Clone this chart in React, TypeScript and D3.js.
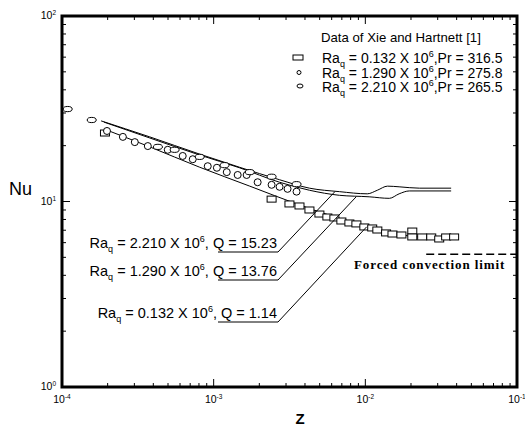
import React from 'react';
import * as d3 from 'd3';

// model curves, [Z, Nu]
const curveHigh: [number, number][] = [
  [1.81e-4, 27.2], [3.79e-4, 22.3], [8.09e-4, 18.0], [1.48e-3, 15.3], [2.72e-3, 13.1],
  [4.28e-3, 11.8], [6.75e-3, 11.3], [0.0103, 11.0], [0.012, 11.5], [0.014, 12.1],
  [0.0167, 12.0], [0.0227, 11.8], [0.0368, 11.8],
];
const curveMid: [number, number][] = [
  [1.89e-4, 26.8], [3.79e-4, 22.0], [8.09e-4, 17.8], [1.48e-3, 15.2], [2.72e-3, 12.7],
  [4.28e-3, 11.5], [6.75e-3, 10.8], [0.0106, 10.6], [0.0144, 10.4], [0.0167, 11.0],
  [0.0195, 11.4], [0.0368, 11.4],
];
const curveLow: [number, number][] = [
  [1.89e-4, 24.6], [3.79e-4, 19.7], [8.09e-4, 15.3], [1.73e-3, 12.1], [3.68e-3, 9.58],
  [4.98e-3, 8.78], [8.21e-3, 7.75], [0.0137, 6.85], [0.0227, 6.44], [0.0368, 6.36],
];

// experimental data (Xie & Hartnett)
const dataRa0132: [number, number][] = [
  [1.92e-4, 23.4], [2.41e-3, 10.3], [3.16e-3, 9.7], [3.68e-3, 9.46], [4.28e-3, 9.0],
  [4.98e-3, 8.56], [5.62e-3, 8.25], [6.25e-3, 8.15], [6.95e-3, 7.85], [7.85e-3, 7.66],
  [8.73e-3, 7.57], [9.85e-3, 7.29], [0.0111, 7.2], [0.012, 7.02], [0.0137, 6.77],
  [0.0151, 6.68], [0.0173, 6.6], [0.0204, 6.93], [0.0204, 6.44], [0.0237, 6.44],
  [0.0272, 6.44], [0.0307, 6.28], [0.0341, 6.44], [0.0385, 6.44],
];
const dataRa1290: [number, number][] = [
  [1.98e-4, 24.0], [2.52e-4, 22.3], [3.02e-4, 20.9], [3.68e-4, 19.9], [4.98e-4, 19.0],
  [6.25e-4, 17.6], [7.28e-4, 16.9], [9.14e-4, 15.5], [1.05e-3, 15.2], [1.22e-3, 14.4],
  [1.44e-3, 13.9], [1.65e-3, 13.9], [1.95e-3, 12.7], [2.41e-3, 12.3], [2.72e-3, 12.0],
  [3.07e-3, 11.7], [3.52e-3, 11.3],
];
const dataRa2210: [number, number][] = [
  [1.09e-4, 31.5], [1.57e-4, 27.5], [4.29e-4, 19.7], [5.53e-4, 19.0], [8.09e-4, 17.4],
  [1.18e-3, 15.7], [1.73e-3, 14.4], [2.41e-3, 13.6], [3.52e-3, 12.4],
];

const forcedLimit = 5.2;
const forcedZ = [0.0252, 0.1];

const caseRa = ['2.210', '1.290', '0.132'];
const caseQ = ['15.23', '13.76', '1.14'];
const leaderZ = [6.3e-3, 8.7e-3, 0.0102];
const leaderNu = [11.3, 10.6, 7.3];

const legendRa = ['0.132', '1.290', '2.210'];
const legendPr = ['316.5', '275.8', '265.5'];

const xMajor = [1e-4, 1e-3, 1e-2, 1e-1];
const xMajorExp = ['-4', '-3', '-2', '-1'];
const yMajor = [1, 10, 100];
const yMajorExp = ['0', '1', '2'];

const W = 525;
const H = 426;
const left = 62, right = 517, top = 16, bottom = 387;

const x = d3.scaleLog().domain([1e-4, 1e-1]).range([left, right]);
const y = d3.scaleLog().domain([1, 100]).range([bottom, top]);

const minorTicks = (lo: number, hi: number) => {
  const out: number[] = [];
  for (let d = lo; d < hi; d *= 10) for (let k = 2; k <= 9; k++) out.push(d * k);
  return out;
};

const line = d3.line<[number, number]>()
  .x(d => x(d[0]))
  .y(d => y(d[1]))
  .curve(d3.curveMonotoneX);

const sans = 'Liberation Sans, Arial, sans-serif';
const serif = 'Liberation Serif, Times New Roman, serif';

const Sub = ({ t }: { t: string }) => (
  <>
    <tspan dy={4} fontSize={9}>{t}</tspan>
    <tspan dy={-4}> </tspan>
  </>
);

const App: React.FC = () => {
  const xMinor = minorTicks(1e-4, 1e-1);
  const yMinor = minorTicks(1, 100);
  const rowY = [243, 271, 313];
  const rowStart = [218, 218, 218];
  const rowEnd = 278;

  return (
    <svg width={W} height={H} style={{ position: 'absolute', left: 0, top: 0, background: '#fff' }}
      fontFamily={sans}>
      {/* ticks */}
      <g stroke="#000" strokeWidth={1}>
        {xMinor.map((v, i) => (
          <g key={'xm' + i}>
            <line x1={x(v)} x2={x(v)} y1={bottom} y2={bottom - 4} />
            <line x1={x(v)} x2={x(v)} y1={top} y2={top + 4} />
          </g>
        ))}
        {xMajor.map((v, i) => (
          <g key={'xM' + i}>
            <line x1={x(v)} x2={x(v)} y1={bottom} y2={bottom - 8} />
            <line x1={x(v)} x2={x(v)} y1={top} y2={top + 8} />
          </g>
        ))}
        {yMinor.map((v, i) => (
          <g key={'ym' + i}>
            <line x1={left} x2={left + 4} y1={y(v)} y2={y(v)} />
            <line x1={right} x2={right - 4} y1={y(v)} y2={y(v)} />
          </g>
        ))}
        {yMajor.map((v, i) => (
          <g key={'yM' + i}>
            <line x1={left} x2={left + 8} y1={y(v)} y2={y(v)} />
            <line x1={right} x2={right - 8} y1={y(v)} y2={y(v)} />
          </g>
        ))}
      </g>
      <rect x={left} y={top} width={right - left} height={bottom - top}
        fill="none" stroke="#000" strokeWidth={3} />

      {/* tick labels */}
      {xMajor.map((v, i) => (
        <text key={'xl' + i} x={x(v)} y={403} fontSize={10.5} textAnchor="middle">
          10<tspan dy={-4} fontSize={6.5}>{xMajorExp[i]}</tspan>
        </text>
      ))}
      {yMajor.map((v, i) => (
        <text key={'yl' + i} x={56} y={y(v) + 3} fontSize={10.5} textAnchor="end">
          10<tspan dy={-4} fontSize={6.5}>{yMajorExp[i]}</tspan>
        </text>
      ))}
      <text x={300} y={424} fontSize={15} fontWeight="bold" textAnchor="middle">Z</text>
      <text x={9} y={195} fontSize={18}>Nu</text>

      {/* curves */}
      {[curveHigh, curveMid, curveLow].map((c, i) => (
        <path key={'c' + i} d={line(c) || ''} fill="none" stroke="#000" strokeWidth={1} />
      ))}

      {/* forced convection limit */}
      <line x1={x(forcedZ[0])} x2={x(forcedZ[1])} y1={y(forcedLimit)} y2={y(forcedLimit)}
        stroke="#000" strokeWidth={1.5} strokeDasharray="8,4" />
      <text x={354} y={269} fontFamily={serif} fontSize={13} fontWeight="bold" letterSpacing={0.9}>
        Forced  convection  limit
      </text>

      {/* data markers */}
      <g stroke="#000" strokeWidth={1} fill="#fff">
        {dataRa0132.map((d, i) => (
          <rect key={'s' + i} x={x(d[0]) - 4.5} y={y(d[1]) - 3} width={9} height={6} />
        ))}
        {dataRa1290.map((d, i) => (
          <circle key={'o' + i} cx={x(d[0])} cy={y(d[1])} r={3.5} />
        ))}
        {dataRa2210.map((d, i) => (
          <ellipse key={'e' + i} cx={x(d[0])} cy={y(d[1])} rx={4.5} ry={2.6} />
        ))}
      </g>

      {/* case labels with leaders */}
      {caseRa.map((ra, i) => (
        <g key={'lab' + i}>
          <text x={rowEnd - 1} y={rowY[i] + 5} fontSize={14.5} textAnchor="end">
            Ra<Sub t="q" />= {ra} X 10<tspan dy={-6} fontSize={9}>6</tspan>
            <tspan dy={6}>, Q = {caseQ[i]}</tspan>
          </text>
          <polyline
            points={`${rowStart[i]},${rowY[i] + 9} ${rowEnd},${rowY[i] + 9} ${x(leaderZ[i])},${y(leaderNu[i])}`}
            fill="none" stroke="#000" strokeWidth={1} />
        </g>
      ))}

      {/* legend */}
      <text x={321} y={42} fontSize={13.2}>Data of Xie and Hartnett [1]</text>
      {legendRa.map((ra, i) => {
        const ly = 58 + i * 14.5;
        return (
          <g key={'lg' + i}>
            {i === 0 && <rect x={293} y={ly - 3} width={10} height={5} fill="#fff" stroke="#000" />}
            {i === 1 && <circle cx={299} cy={ly} r={2} fill="#fff" stroke="#000" />}
            {i === 2 && <ellipse cx={300} cy={ly - 1} rx={3} ry={2} fill="#fff" stroke="#000" />}
            <text x={322} y={ly + 5} fontSize={14}>
              Ra<Sub t="q" />= {ra} X 10<tspan dy={-6} fontSize={9}>6</tspan>
              <tspan dy={6}>,Pr = {legendPr[i]}</tspan>
            </text>
          </g>
        );
      })}
    </svg>
  );
};

export default App;
